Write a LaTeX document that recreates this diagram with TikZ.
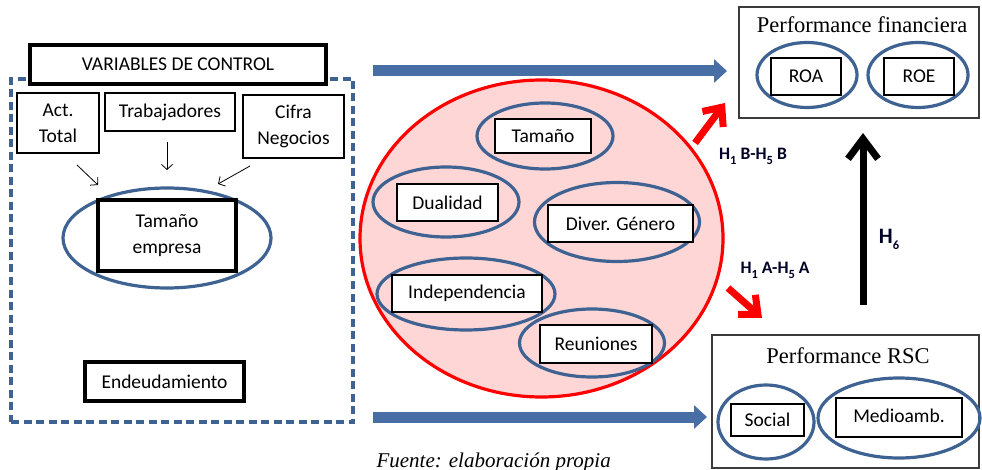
\documentclass[tikz,border=0pt]{standalone}
\usepackage{fontspec}
\setmainfont{Carlito}
\newfontfamily\tnr{Liberation Serif}
\usetikzlibrary{shapes.geometric,arrows.meta}
\definecolor{eblue}{RGB}{62,98,145}
\definecolor{ablue}{RGB}{72,111,165}
\definecolor{pinkfill}{RGB}{255,214,214}
\definecolor{boxgray}{RGB}{60,60,60}
\newcommand\hsub[1]{\raisebox{-0.28em}{\fontsize{12.5}{12.5}\selectfont #1}}
\begin{document}
\begin{tikzpicture}[x=1pt,y=-1pt,
  txt/.style={font=\fontsize{19.5}{26}\selectfont},
  thinbox/.style={draw=black, line width=1.1pt, fill=white, inner sep=0pt, align=center, txt},
  thickbox/.style={thinbox, line width=3.6pt},
  ell/.style={ellipse, draw=eblue, line width=3.2pt, inner sep=0pt},
  redell/.style={ellipse, draw=red, fill=pinkfill, line width=3.2pt, inner sep=0pt},
  dashbox/.style={draw=eblue, line width=3.2pt, dash pattern=on 8pt off 4.5pt, inner sep=0pt},
  perfbox/.style={draw=boxgray, line width=1.2pt, fill=white, inner sep=0pt},
  smallarrow/.style={draw=black, line width=0.8pt, -{Straight Barb[length=5pt,width=11pt]}},
  bluearrow/.style={draw=ablue, line width=11pt, -{Triangle[length=13pt,width=23pt]}},
  redarrow/.style={draw=red, line width=7pt, -{Straight Barb[length=15pt,width=26pt]}},
  blackarrow/.style={draw=black, line width=7pt, -{Straight Barb[length=20pt,width=30pt]}},
  hlabel/.style={font=\fontsize{17.5}{20}\selectfont\bfseries, text=black!85!blue},
  titletxt/.style={font=\tnr\fontsize{22.5}{26}\selectfont, anchor=base}
]
\useasboundingbox (0,0) rectangle (982,470);

% ---- left: control variables
\node[dashbox, minimum width=342, minimum height=343] (ctl) at (182,250.5) {};
\node[thickbox, minimum width=296, minimum height=39] (var) at (178,64.5) {VARIABLES DE CONTROL};
\node[thinbox, minimum width=82, minimum height=60] (act) at (58,123) {Act.\\Total};
\node[thinbox, minimum width=130, minimum height=38] (trab) at (170,112) {Trabajadores};
\node[thinbox, minimum width=101, minimum height=63] (cifra) at (293.5,126.5) {Cifra\\Negocios};
\node[ell, minimum width=208, minimum height=100] (tamE) at (167,238) {};
\node[thickbox, minimum width=138, minimum height=71] (tam) at (167,235.5) {Tamaño\\empresa};
\node[thickbox, minimum width=159, minimum height=39] (endeu) at (164.5,381.5) {Endeudamiento};

\coordinate (a1s) at (77,165); \coordinate (a1e) at (98,185);
\coordinate (a2s) at (167,142); \coordinate (a2e) at (167,170);
\coordinate (a3s) at (250,166); \coordinate (a3e) at (218,184);
\draw[smallarrow] (a1s) -- (a1e);
\draw[smallarrow] (a2s) -- (a2e);
\draw[smallarrow] (a3s) -- (a3e);

% ---- centre: board characteristics
\node[redell, minimum width=363, minimum height=317] (board) at (541.5,238.5) {};
\node[ell, minimum width=136, minimum height=66] (tamaE) at (545,136) {};
\node[thinbox, minimum width=96, minimum height=34] (tama) at (543,136) {Tamaño};
\node[ell, minimum width=146, minimum height=70] (dualE) at (446,202) {};
\node[thinbox, minimum width=101, minimum height=37] (dual) at (447.5,202.5) {Dualidad};
\node[ell, minimum width=165, minimum height=79] (divE) at (617,222) {};
\node[thinbox, minimum width=145, minimum height=37] (div) at (620.5,223.5) {Diver. Género};
\node[ell, minimum width=178, minimum height=72] (indE) at (466,294) {};
\node[thinbox, minimum width=150, minimum height=37] (ind) at (467,293.5) {Independencia};
\node[ell, minimum width=145, minimum height=68] (reuE) at (592,343) {};
\node[thinbox, minimum width=112, minimum height=38] (reu) at (596,344) {Reuniones};

% ---- right: performance
\node[perfbox, minimum width=240, minimum height=111] (fin) at (859,62.5) {};
\node[titletxt] (finT) at (862,33) {Performance financiera};
\node[ell, minimum width=100, minimum height=65] (roaE) at (807,75) {};
\node[thinbox, minimum width=70, minimum height=37] (roa) at (806,76.5) {ROA};
\node[ell, minimum width=100, minimum height=65] (roeE) at (918,75) {};
\node[thinbox, minimum width=70, minimum height=37] (roe) at (919,76.5) {ROE};

\node[perfbox, minimum width=267, minimum height=133] (rsc) at (845.5,401.5) {};
\node[titletxt] (rscT) at (848,363) {Performance RSC};
\node[ell, minimum width=96, minimum height=74] (socE) at (766,422) {};
\node[thinbox, minimum width=73, minimum height=32] (soc) at (767.5,420) {Social};
\node[ell, minimum width=162, minimum height=80] (medE) at (899,418) {};
\node[thinbox, minimum width=126, minimum height=39, text depth=4pt] (med) at (899,417.5) {Medioamb.};

% ---- arrows
\coordinate (b1s) at (373,71); \coordinate (b1e) at (727,71);
\coordinate (b2s) at (373,417); \coordinate (b2e) at (707,417);
\draw[bluearrow] (b1s) -- (b1e);
\draw[bluearrow] (b2s) -- (b2e);

\coordinate (r1s) at (695,143); \coordinate (r1e) at (725,103);
\coordinate (r2s) at (728,288); \coordinate (r2e) at (762,318);
\draw[redarrow] (r1s) -- (r1e);
\draw[redarrow] (r2s) -- (r2e);

\coordinate (h6s) at (863,305); \coordinate (h6e) at (863,133);
\draw[blackarrow] (h6s) -- (h6e);

\node[hlabel] (lb) at (753,156) {H\hsub{1} B-H\hsub{5} B};
\node[hlabel] (la) at (775,270) {H\hsub{1} A-H\hsub{5} A};
\node[hlabel, font=\fontsize{22}{24}\selectfont\bfseries] (l6) at (889,239) {H\hsub{6}};

\node[font=\tnr\itshape\fontsize{21}{21}\selectfont, anchor=base west] (src) at (373,467) {Fuente: elaboración propia};
\end{tikzpicture}
\end{document}
